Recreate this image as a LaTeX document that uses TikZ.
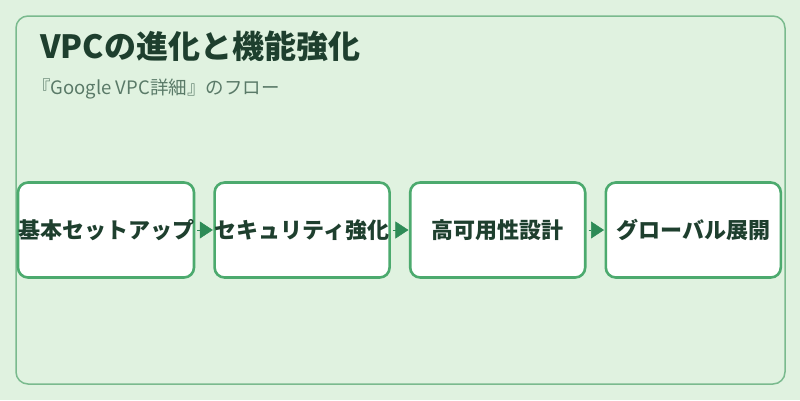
\documentclass[tikz,border=0pt]{standalone}
\usepackage{fontspec}
\setmainfont{Noto Sans CJK JP}
\usetikzlibrary{positioning,arrows.meta}
\definecolor{bgcol}{HTML}{E0F2E0}
\definecolor{framecol}{HTML}{7ABA8E}
\definecolor{boxcol}{HTML}{4CAA6E}
\definecolor{arrcol}{HTML}{2E8B57}
\definecolor{titlecol}{HTML}{1E3F2E}
\definecolor{subcol}{HTML}{5A7A68}
\tikzset{
  stage/.style={draw=boxcol, line width=2.6pt, fill=white, rounded corners=10pt,
    minimum width=175pt, minimum height=95pt, inner sep=0pt,
    font=\fontsize{22}{26}\selectfont\bfseries, text=titlecol},
  flow/.style={draw=arrcol, line width=0.5pt, -{Triangle[length=13pt,width=17pt]}, fill=arrcol}
}
\begin{document}
\begin{tikzpicture}[x=1pt, y=-1pt]
\useasboundingbox[fill=bgcol] (0,0) rectangle (800,400);
% cadre
\draw[framecol, line width=1.5pt, rounded corners=12pt] (16,16) rectangle (785,384);
% titres
\node[anchor=west, inner sep=0pt, text=titlecol, font=\fontsize{32}{38}\selectfont\bfseries] (titre) at (40,46) {VPCの進化と機能強化};
\node[anchor=west, inner sep=0pt, text=subcol, font=\fontsize{18.5}{22}\selectfont] (soustitre) at (32,89) {『Google VPC詳細』のフロー};

% étapes
\node[stage] (base) at (106,230) {基本セットアップ};
\node[stage, right=18pt of base] (secu) {セキュリティ強化};
\node[stage, right=18pt of secu] (dispo) {高可用性設計};
\node[stage, right=18pt of dispo] (global) {グローバル展開};

\foreach \a/\b in {base/secu, secu/dispo, dispo/global}
  \draw[flow] ([xshift=2pt]\a.east) -- ([xshift=-0.5pt]\b.west);
\end{tikzpicture}
\end{document}
